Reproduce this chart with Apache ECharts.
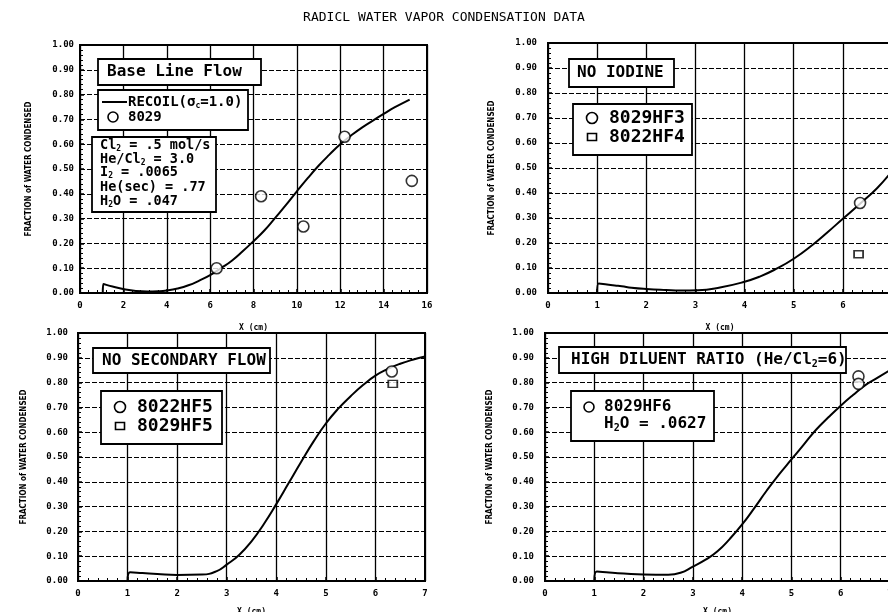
<!DOCTYPE html>
<html>
<head>
<meta charset="utf-8">
<script src="https://cdn.jsdelivr.net/npm/echarts@6/dist/echarts.min.js"></script>
<style>
html,body{margin:0;padding:0;background:#fff;}
#chart{width:888px;height:612px;}
</style>
</head>
<body>
<div id="chart"></div>
<script>
// ---- data ----
const titleText = 'RADICL WATER VAPOR CONDENSATION DATA';
const yTickLabels = ['0.00','0.10','0.20','0.30','0.40','0.50','0.60','0.70','0.80','0.90','1.00'];

// Base Line Flow (x 0..16)
const baseRecoil = [[1.05,0],[1.08,0.036],[1.5,0.026],[2.1,0.014],[2.6,0.008],[3.1,0.006],[3.6,0.007],[4.0,0.01],[4.5,0.018],[5.0,0.031],[5.5,0.05],[6.0,0.072],[6.5,0.1],[7.0,0.13],[7.5,0.168],[8.0,0.209],[8.5,0.252],[9.0,0.303],[9.5,0.355],[10.0,0.41],[10.5,0.463],[11.0,0.513],[11.5,0.558],[12.0,0.6],[12.5,0.635],[13.0,0.667],[13.5,0.695],[14.0,0.722],[14.5,0.748],[15.2,0.78]];
const base8029 = [[6.3,0.10],[8.35,0.39],[10.3,0.268],[12.2,0.63],[15.3,0.452]];

// No Iodine (x 0..7)
const noIodineCurve = [[1.0,0],[1.03,0.038],[1.2,0.034],[1.36,0.03],[1.5,0.027],[1.7,0.021],[2.0,0.016],[2.4,0.012],[2.7,0.01],[3.05,0.011],[3.5,0.022],[4.0,0.045],[4.3,0.065],[4.6,0.092],[5.0,0.137],[5.4,0.195],[5.7,0.245],[6.0,0.297],[6.35,0.357],[6.7,0.42],[7.0,0.488]];
const hf3 = [[6.35,0.36]];
const hf4 = [[6.32,0.155]];

// No Secondary Flow (x 0..7)
const noSecCurve = [[1.0,0],[1.05,0.035],[1.3,0.032],[1.6,0.028],[2.0,0.024],[2.5,0.026],[2.8,0.04],[3.0,0.066],[3.25,0.105],[3.5,0.16],[3.75,0.23],[4.0,0.31],[4.25,0.395],[4.5,0.48],[4.75,0.562],[5.0,0.635],[5.25,0.695],[5.5,0.745],[5.75,0.79],[6.0,0.828],[6.25,0.855],[6.5,0.876],[6.75,0.892],[7.0,0.905]];
const hf5c = [[6.33,0.845]];
const hf5s = [[6.35,0.795]];

// High Diluent Ratio (x 0..7)
const highDilCurve = [[1.0,0],[1.05,0.038],[1.3,0.034],[1.6,0.03],[2.0,0.026],[2.5,0.025],[2.75,0.033],[3.0,0.058],[3.25,0.085],[3.5,0.12],[3.75,0.17],[4.0,0.228],[4.25,0.295],[4.5,0.365],[4.75,0.43],[5.0,0.49],[5.25,0.55],[5.5,0.61],[5.75,0.66],[6.0,0.707],[6.25,0.75],[6.5,0.79],[6.75,0.82],[7.0,0.85]];
const hf6 = [[6.36,0.825],[6.36,0.795]];

// ---- chart ----
const MONO = 'DejaVu Sans Mono';
const grids = [
  {left:80, top:45, right:461, bottom:319},
  {left:548, top:43, right:-4, bottom:319},
  {left:78, top:333, right:463, bottom:31},
  {left:545, top:333, right:-2, bottom:31}
];
const xMax = [16,7,7,7];
const xInt = [2,1,1,1];
const yNameGap = [47,52,50,51];
const yLabelMargin = [6,11,10,11];
const xNameGap = [31,31,27,27];

function xAxis(i){
  return {
    gridIndex:i, type:'value', min:0, max:xMax[i], interval:xInt[i],
    name:'X (cm)', nameLocation:'middle', nameGap:xNameGap[i],
    nameTextStyle:{fontFamily:MONO, fontWeight:'bold', fontSize:8, color:'#000'},
    axisLine:{show:true, onZero:false, lineStyle:{color:'#000', width:2}},
    axisTick:{show:true, inside:true, length:4, lineStyle:{color:'#000', width:1.5}},
    minorTick:{show:true, splitNumber:5, length:3, lineStyle:{color:'#000', width:1}},
    axisLabel:{fontFamily:MONO, fontWeight:'bold', fontSize:9, color:'#000', margin:8, hideOverlap:false},
    splitLine:{show:true, lineStyle:{color:'#000', width:1.3}}
  };
}
function yAxis(i){
  return {
    gridIndex:i, type:'value', min:0, max:1, interval:0.1,
    name:'FRACTION of WATER CONDENSED', nameLocation:'middle', nameRotate:90, nameGap:yNameGap[i],
    nameTextStyle:{fontFamily:'DejaVu Sans Condensed', fontWeight:'bold', fontSize:8, color:'#000'},
    axisLine:{show:true, lineStyle:{color:'#000', width:2}},
    axisTick:{show:true, inside:true, length:4, lineStyle:{color:'#000', width:1.5}},
    minorTick:{show:true, splitNumber:5, length:3, lineStyle:{color:'#000', width:1}},
    axisLabel:{fontFamily:MONO, fontWeight:'bold', fontSize:9, color:'#000', margin:yLabelMargin[i],
      formatter:function(v){ return yTickLabels[Math.round(v*10)]; }},
    splitLine:{show:true, lineStyle:{color:'#000', width:1.2, type:[5,2]}}
  };
}
function curve(i, data, name){
  return {type:'line', name:name||('curve'+i), xAxisIndex:i, yAxisIndex:i, data:data,
    smooth:0.5, showSymbol:false, symbol:'none',
    lineStyle:{color:'#000', width:2}, z:3, silent:true};
}
function pts(i, data, name, shape){
  return {type:'scatter', name:name, xAxisIndex:i, yAxisIndex:i, data:data,
    symbol: shape==='rect' ? 'rect' : 'circle',
    symbolSize: shape==='rect' ? [9,7] : 11,
    itemStyle:{color:'#fff', borderColor:'#000', borderWidth:1.6}, z:4};
}

// graphic helpers
function box(x,y,w,h){
  return {type:'rect', shape:{x:x,y:y,width:w,height:h}, style:{fill:'#fff', stroke:'#000', lineWidth:1.8}, z:10};
}
const rich = function(fs){ return {
  n:{fontFamily:MONO, fontWeight:'bold', fontSize:fs, fill:'#000', lineHeight:fs+2},
  s:{fontFamily:MONO, fontWeight:'bold', fontSize:Math.round(fs*0.6), fill:'#000', verticalAlign:'bottom', lineHeight:fs+2}
};};
function txt(x,y,text,fs){
  return {type:'text', x:x, y:y, z:11, style:{text:text, rich:rich(fs), fontFamily:MONO, fontWeight:'bold', fontSize:fs, fill:'#000', verticalAlign:'middle', align:'left'}};
}
function circ(x,y,r){
  return {type:'circle', shape:{cx:x,cy:y,r:r}, style:{fill:'#fff', stroke:'#000', lineWidth:1.6}, z:11};
}
function sq(x,y){
  return {type:'rect', shape:{x:x-4.5,y:y-3.5,width:9,height:7}, style:{fill:'#fff', stroke:'#000', lineWidth:1.6}, z:11};
}

const graphics = [
  // top-left
  box(98,59,163,26), txt(107,72,'{n|Base Line Flow}',16),
  box(98,90,150,40),
  {type:'line', shape:{x1:102,y1:102,x2:127,y2:102}, style:{stroke:'#000', lineWidth:2}, z:11},
  txt(128,102,'{n|RECOIL(σ}{s|c}{n|=1.0)}',14),
  circ(113,117,5), txt(128,117,'{n|8029}',14),
  box(92,137,124,75),
  txt(100,145,'{n|Cl}{s|2}{n| = .5 mol/s}',13.5),
  txt(100,159,'{n|He/Cl}{s|2}{n| = 3.0}',13.5),
  txt(100,172,'{n|I}{s|2}{n| = .0065}',13.5),
  txt(100,187,'{n|He(sec) = .77}',13.5),
  txt(100,201,'{n|H}{s|2}{n|O = .047}',13.5),
  // top-right
  box(569,59,105,28), txt(577,73,'{n|NO IODINE}',16),
  box(573,104,119,51),
  circ(592,118,5.5), txt(609,118,'{n|8029HF3}',18),
  sq(592,137), txt(609,137,'{n|8022HF4}',18),
  // bottom-left
  box(93,348,177,25), txt(102,361,'{n|NO SECONDARY FLOW}',16),
  box(101,391,121,53),
  circ(120,407,5.5), txt(137,407,'{n|8022HF5}',18),
  sq(120,426), txt(137,426,'{n|8029HF5}',18),
  // bottom-right
  box(559,347,287,26), txt(571,360,'{n|HIGH DILUENT RATIO (He/Cl}{s|2}{n|=6)}',16),
  box(571,391,143,50),
  circ(589,407,5), txt(604,407,'{n|8029HF6}',16),
  txt(604,424,'{n|H}{s|2}{n|O = .0627}',16)
];

const option = {
  backgroundColor:'#fff',
  animation:false,
  title:{text:titleText, left:'center', top:6,
    textStyle:{fontFamily:MONO, fontWeight:'normal', fontSize:13, color:'#000'}},
  grid: grids.map(g => Object.assign({show:true, borderColor:'#000', borderWidth:2, backgroundColor:'transparent', outerBoundsMode:'none', containLabel:false}, g)),
  xAxis:[0,1,2,3].map(xAxis),
  yAxis:[0,1,2,3].map(yAxis),
  series:[
    curve(0, baseRecoil, 'RECOIL'), pts(0, base8029, '8029', 'circle'),
    curve(1, noIodineCurve), pts(1, hf3, '8029HF3', 'circle'), pts(1, hf4, '8022HF4', 'rect'),
    curve(2, noSecCurve), pts(2, hf5c, '8022HF5', 'circle'), pts(2, hf5s, '8029HF5', 'rect'),
    curve(3, highDilCurve), pts(3, hf6, '8029HF6', 'circle')
  ],
  graphic: graphics
};
const chart = echarts.init(document.getElementById('chart'), null, {renderer:'canvas'});
chart.setOption(option);
</script>
</body>
</html>
